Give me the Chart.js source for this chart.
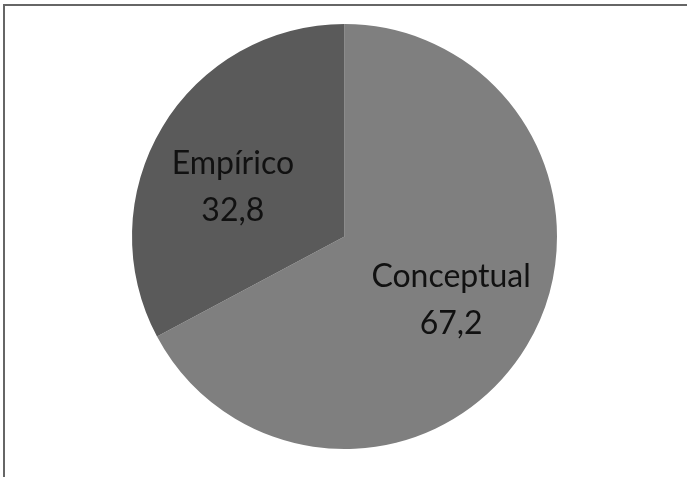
<!DOCTYPE html>
<html>
<head>
<meta charset="utf-8">
<script src="https://cdn.jsdelivr.net/npm/chart.js@4.4.0/dist/chart.umd.min.js"></script>
<style>
  html, body { margin: 0; padding: 0; background: #fff; }
  #wrap { position: relative; width: 687px; height: 477px; }
  #frame {
    position: absolute; left: 3px; top: 4px; right: 0; bottom: 0;
    border-top: 2px solid #666; border-left: 2px solid #666;
  }
  canvas { position: absolute; left: 0; top: 0; }
</style>
</head>
<body>
<div id="wrap">
  <div id="frame"></div>
  <canvas id="myChart" width="687" height="477"></canvas>
</div>
<script>
// valores
const categorias = ["Conceptual", "Empírico"];
const valores = [67.2, 32.8];
const colores = ["#7f7f7f", "#5a5a5a"];

// etiquetas dentro de cada sector: nombre y valor
// (Excel no las pone justo en el ángulo medio, se corrige un poco)
const giro = [0, -7];
const radio = [0.585, 0.575];

const sliceLabels = {
  id: "sliceLabels",
  afterDatasetsDraw(chart) {
    const ctx = chart.ctx;
    const meta = chart.getDatasetMeta(0);
    ctx.save();
    ctx.font = "32px Lato";
    ctx.fillStyle = "#111";
    ctx.textAlign = "center";
    ctx.textBaseline = "middle";
    meta.data.forEach((arc, i) => {
      const p = arc.getProps(["x", "y", "startAngle", "endAngle", "outerRadius"], true);
      const mid = (p.startAngle + p.endAngle) / 2 + giro[i] * Math.PI / 180;
      const r = p.outerRadius * radio[i];
      const x = p.x + Math.cos(mid) * r;
      const y = p.y + Math.sin(mid) * r;
      ctx.fillText(categorias[i], x, y - 23.5);
      ctx.fillText(String(valores[i]).replace(".", ","), x, y + 23.5);
    });
    ctx.restore();
  }
};

new Chart(document.getElementById("myChart").getContext("2d"), {
  type: "pie",
  data: {
    labels: categorias,
    datasets: [
      {
        data: valores,
        backgroundColor: colores,
        borderWidth: 0,
      },
    ],
  },
  options: {
    responsive: false,
    animation: false,
    layout: { padding: { top: 24, bottom: 28, left: 132, right: 130 } },
    plugins: {
      legend: { display: false },
      tooltip: { enabled: false },
    },
  },
  plugins: [sliceLabels],
});
</script>
</body>
</html>
